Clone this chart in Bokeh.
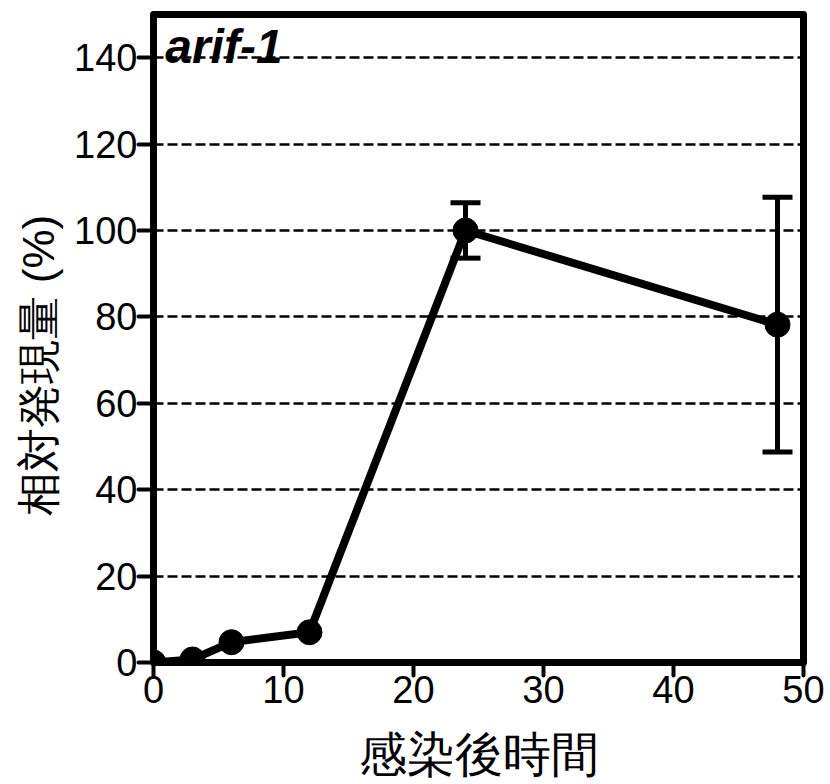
from bokeh.plotting import figure
from bokeh.models import Range1d, FixedTicker, Label, Title, ColumnDataSource
from bokeh.embed import file_html
from bokeh.resources import INLINE

# Relative expression of arif-1 after infection
hours = [0, 3, 6, 12, 24, 48]
expression = [0.0, 0.7, 4.7, 7.0, 100.0, 78.2]
error = [0.0, 0.0, 0.0, 0.0, 6.4, 29.5]

x_ticks = [0, 10, 20, 30, 40, 50]
y_ticks = [0, 20, 40, 60, 80, 100, 120, 140]

gene_name = "arif-1"
x_title = "感染後時間"
y_title = "相対発現量 (%)"

FONT = "Liberation Sans"

upper = [m + e for m, e in zip(expression, error)]
lower = [m - e for m, e in zip(expression, error)]
src = ColumnDataSource(dict(x=hours, y=expression))
bar_src = ColumnDataSource(dict(
    x=[h for h, e in zip(hours, error) if e > 0],
    up=[u for u, e in zip(upper, error) if e > 0],
    lo=[l for l, e in zip(lower, error) if e > 0],
))

p = figure(width=830, height=784, output_backend="svg", toolbar_location=None,
           x_range=Range1d(0, 50), y_range=Range1d(0, 150),
           min_border_left=153, min_border_right=27,
           min_border_top=14, min_border_bottom=122)

p.background_fill_color = "white"
p.border_fill_color = "white"
p.outline_line_color = "black"
p.outline_line_width = 7
p.outline_line_join = "round"

# grid: dashed horizontal lines only
p.xgrid.visible = False
p.ygrid.grid_line_color = "black"
p.ygrid.grid_line_width = 2.5
p.ygrid.grid_line_dash = "10 4"

for ax in (p.xaxis[0], p.yaxis[0]):
    ax.axis_line_color = None
    ax.major_tick_line_color = "black"
    ax.major_tick_line_width = 4
    ax.major_tick_line_cap = "round"
    ax.major_tick_in = 0
    ax.minor_tick_line_color = None
    ax.major_label_text_font = FONT
    ax.major_label_text_font_size = "38px"
    ax.major_label_text_color = "black"

p.xaxis.ticker = FixedTicker(ticks=x_ticks)
p.yaxis.ticker = FixedTicker(ticks=y_ticks)
p.xaxis.major_tick_out = 13
p.yaxis.major_tick_out = 15
p.xaxis.major_label_standoff = 0
p.yaxis.major_label_standoff = 1

# x title under the tick labels
p.xaxis.axis_label = x_title
p.xaxis.axis_label_text_font = FONT
p.xaxis.axis_label_text_font_size = "48px"
p.xaxis.axis_label_text_font_style = "normal"
p.xaxis.axis_label_text_color = "black"
p.xaxis.axis_label_standoff = 22

# y title as a vertical title on the left, measured from the bottom
p.add_layout(Title(text=y_title, align="left", offset=147, standoff=17,
                   text_font=FONT, text_font_size="44px",
                   text_font_style="normal", text_color="black"), "left")

# error bars with flat caps
p.segment(x0="x", y0="lo", x1="x", y1="up", source=bar_src,
          line_color="black", line_width=5)
p.scatter(x="x", y="up", source=bar_src, marker="dash", size=30,
          line_color="black", line_width=5)
p.scatter(x="x", y="lo", source=bar_src, marker="dash", size=30,
          line_color="black", line_width=5)

# mean line and markers
p.line(x="x", y="y", source=src, line_color="black", line_width=8)
p.scatter(x="x", y="y", source=src, marker="circle", size=25,
          fill_color="black", line_color="black")

# gene name in the top-left corner of the plot area
p.add_layout(Label(x=0.9, y=142.7, text=gene_name,
                   text_align="left", text_baseline="alphabetic",
                   text_font=FONT, text_font_size="48px",
                   text_font_style="bold italic", text_color="black"))

open("out.html", "w").write(file_html(p, INLINE))
